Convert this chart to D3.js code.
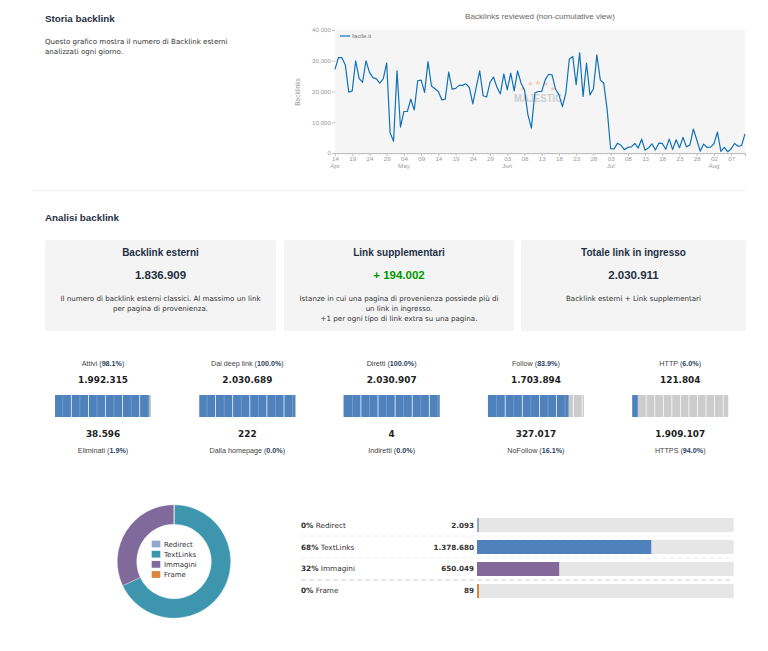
<!DOCTYPE html>
<html>
<head>
<meta charset="utf-8">
<script src="https://cdn.jsdelivr.net/npm/d3@7"></script>
<style>
  html, body { margin: 0; padding: 0; background: #fff; }
  svg { display: block; }
  .body { font-family: "DejaVu Sans", sans-serif; }
  .head { font-family: "Liberation Sans", Arial, sans-serif; font-weight: bold; fill: #1f3044; }
  .hc { font-family: "Liberation Sans", Arial, sans-serif; }
  .axis text { font-family: "Liberation Sans", Arial, sans-serif; font-size: 6.2px; fill: #999; }
  .axis path, .axis line { stroke: #c0c0c0; }
</style>
</head>
<body>
<svg width="768" height="651"></svg>
<script>
const svg = d3.select("svg");

// daily backlinks, starts 14 Apr
const backlinkValues = [
  27200, 31000, 31000, 28600, 19800, 20200, 30000, 24300, 23000, 30000,
  26200, 24500, 24100, 22700, 24100, 29200, 6500, 3800, 26700, 8400,
  13500, 13500, 17500, 14000, 23500, 23700, 19700, 29700, 21800, 20900,
  20000, 17300, 17500, 26300, 20800, 21000, 22000, 22000, 22500, 21300,
  16000, 21400, 26700, 18600, 18200, 23000, 24700, 21400, 19200, 25700,
  20500, 26000, 20200, 26700, 22700, 20500, 12400, 8100, 19500, 20000,
  20000, 23800, 25600, 25400, 20800, 18900, 15100, 19500, 30500, 31400,
  22200, 32600, 18400, 29200, 18900, 20800, 31900, 23800, 22700, 14000,
  1400, 1300, 3200, 2500, 1100, 1800, 2000, 3100, 1600, 4500,
  900, 1700, 3000, 1000, 3200, 3100, 1200, 4500, 1100, 4300,
  1700, 5100, 2000, 2600, 7800, 4300, 600, 2900, 1800, 1900,
  3100, 6800, 500, 1800, 400, 1400, 3100, 2200, 2400, 6200
];
const yTicks = [0, 10000, 20000, 30000, 40000];
const xTickDays = [
  "2019-04-14", "2019-04-19", "2019-04-24", "2019-04-29", "2019-05-04", "2019-05-09",
  "2019-05-14", "2019-05-19", "2019-05-24", "2019-05-29", "2019-06-03", "2019-06-08",
  "2019-06-13", "2019-06-18", "2019-06-23", "2019-06-28", "2019-07-03", "2019-07-08",
  "2019-07-13", "2019-07-18", "2019-07-23", "2019-07-28", "2019-08-02", "2019-08-07"
];
const monthTicks = ["2019-04-14", "2019-05-04", "2019-06-03", "2019-07-03", "2019-08-02"];

const cardTitles = ["Backlink esterni", "Link supplementari", "Totale link in ingresso"];
const cardValues = ["1.836.909", "+ 194.002", "2.030.911"];
const cardNotes = [
  ["Il numero di backlink esterni classici. Al massimo un link", "per pagina di provenienza."],
  ["Istanze in cui una pagina di provenienza possiede più di", "un link in ingresso.", "+1 per ogni tipo di link extra su una pagina."],
  ["Backlink esterni + Link supplementari"]
];

const gaugeTopLabels = ["Attivi", "Dai deep link", "Diretti", "Follow", "HTTP"];
const gaugeTopPercents = [98.1, 100.0, 100.0, 83.9, 6.0];
const gaugeTopValues = ["1.992.315", "2.030.689", "2.030.907", "1.703.894", "121.804"];
const gaugeBottomLabels = ["Eliminati", "Dalla homepage", "Indiretti", "NoFollow", "HTTPS"];
const gaugeBottomPercents = [1.9, 0.0, 0.0, 16.1, 94.0];
const gaugeBottomValues = ["38.596", "222", "4", "327.017", "1.909.107"];

const linkTypes = ["Redirect", "TextLinks", "Immagini", "Frame"];
const linkCounts = [2093, 1378680, 650049, 89];
const linkCountLabels = ["2.093", "1.378.680", "650.049", "89"];
const linkPercents = ["0%", "68%", "32%", "0%"];
const donutColors = ["#92a8cd", "#3d96ae", "#80699b", "#db843d"];
const barColors = ["#92a8cd", "#4f81bd", "#82689b", "#db843d"];

const parseDay = d3.timeParse("%Y-%m-%d");

function label(parent, x, y, txt, size, anchor, fill, weight) {
    return parent.append("text")
        .attr("class", "body")
        .attr("x", x)
        .attr("y", y)
        .attr("text-anchor", anchor || "start")
        .attr("fill", fill || "#333")
        .style("font-weight", weight || "normal")
        .style("font-size", size + "px")
        .text(txt);
}

// ---- header text
svg.append("text").attr("class", "head").attr("x", 45).attr("y", 21.5).style("font-size", "9.8px").text("Storia backlink");
label(svg, 45, 44, "Questo grafico mostra il numero di Backlink esterni", 7.1);
label(svg, 45, 54, "analizzati ogni giorno.", 7.1);

svg.append("line")
    .attr("x1", 33).attr("x2", 745).attr("y1", 190.5).attr("y2", 190.5)
    .attr("stroke", "#eeeeee");

svg.append("text").attr("class", "head").attr("x", 45).attr("y", 220.5).style("font-size", "9.8px").text("Analisi backlink");

// ---- line chart
const chart = { left: 335, right: 745, top: 30, bottom: 153 };
const startDay = parseDay(xTickDays[0]);
const days = backlinkValues.map((v, i) => d3.timeDay.offset(startDay, i));

const xTime = d3.scaleTime()
    .domain([days[0], days[days.length - 1]])
    .range([chart.left, chart.right]);

const yBacklinks = d3.scaleLinear()
    .domain([0, 40000])
    .range([chart.bottom, chart.top]);

svg.append("rect")
    .attr("x", chart.left)
    .attr("y", chart.top)
    .attr("width", chart.right - chart.left)
    .attr("height", chart.bottom - chart.top)
    .attr("fill", "#f5f5f5");

svg.append("text")
    .attr("class", "hc")
    .attr("x", 540)
    .attr("y", 18.5)
    .attr("text-anchor", "middle")
    .attr("fill", "#666")
    .style("font-size", "8.1px")
    .text("Backlinks reviewed (non-cumulative view)");

// watermark stars + name
const wm = svg.append("g");
[-50, -23, 0, 23, 50].forEach(a => {
    const r = a * Math.PI / 180;
    wm.append("text")
        .attr("class", "body")
        .attr("x", 538 + 19.5 * Math.sin(r))
        .attr("y", 104 - 19.5 * Math.cos(r))
        .attr("text-anchor", "middle")
        .attr("fill", "#f6c9b4")
        .style("font-size", "7px")
        .text("★");
});
wm.append("text")
    .attr("class", "hc")
    .attr("x", 514)
    .attr("y", 102)
    .attr("fill", "#cfcfcf")
    .attr("textLength", 48)
    .attr("lengthAdjust", "spacingAndGlyphs")
    .style("font-size", "11px")
    .style("font-weight", "bold")
    .text("MAJESTIC");

svg.append("g")
    .attr("class", "axis")
    .attr("transform", `translate(${chart.left},0)`)
    .call(d3.axisLeft(yBacklinks).tickValues(yTicks).tickSize(3).tickPadding(1).tickFormat(d3.format(",")))
    .call(g => g.select(".domain").remove());

const xAxis = svg.append("g")
    .attr("class", "axis")
    .attr("transform", `translate(0,${chart.bottom})`);

xAxis.call(d3.axisBottom(xTime)
    .tickValues(xTickDays.map(parseDay))
    .tickSize(3)
    .tickPadding(1)
    .tickFormat(d3.timeFormat("%d")));

xAxis.selectAll(".minor")
    .data(days)
    .enter()
    .append("line")
    .attr("class", "minor")
    .attr("x1", d => xTime(d))
    .attr("x2", d => xTime(d))
    .attr("y1", 0)
    .attr("y2", 1.5);

xAxis.selectAll(".month")
    .data(monthTicks.map(parseDay))
    .enter()
    .append("text")
    .attr("class", "month")
    .attr("x", d => xTime(d))
    .attr("y", 15)
    .attr("text-anchor", "middle")
    .text(d3.timeFormat("%b"));

svg.append("text")
    .attr("class", "hc")
    .attr("transform", "rotate(-90)")
    .attr("x", -92)
    .attr("y", 300)
    .attr("text-anchor", "middle")
    .attr("fill", "#999")
    .style("font-size", "6.5px")
    .text("Backlinks");

svg.append("path")
    .datum(backlinkValues)
    .attr("fill", "none")
    .attr("stroke", "#1272b6")
    .attr("stroke-width", 1.2)
    .attr("stroke-linejoin", "round")
    .attr("d", d3.line().x((d, i) => xTime(days[i])).y(d => yBacklinks(d)));

svg.append("line")
    .attr("x1", 340).attr("x2", 350).attr("y1", 36).attr("y2", 36)
    .attr("stroke", "#1272b6").attr("stroke-width", 1.2);
svg.append("text")
    .attr("class", "hc")
    .attr("x", 352)
    .attr("y", 38.3)
    .attr("fill", "#777")
    .style("font-size", "6.2px")
    .text("facile.it");

// ---- cards
const cardLefts = [45, 284, 521];
const cardWidths = [231, 230, 225];
cardTitles.forEach((title, i) => {
    const g = svg.append("g");
    const cx = cardLefts[i] + cardWidths[i] / 2;
    g.append("rect")
        .attr("x", cardLefts[i])
        .attr("y", 240)
        .attr("width", cardWidths[i])
        .attr("height", 91)
        .attr("rx", 2)
        .attr("fill", "#f4f4f4");
    g.append("text").attr("class", "head").attr("x", cx).attr("y", 255.5)
        .attr("text-anchor", "middle").style("font-size", "10px").text(title);
    g.append("text").attr("class", "head").attr("x", cx).attr("y", 279)
        .attr("text-anchor", "middle").style("font-size", "11.5px")
        .style("fill", i === 1 ? "#009900" : "#1f3044").text(cardValues[i]);
    cardNotes[i].forEach((line, j) => {
        label(g, cx, 300.5 + j * 10.3, line, 7.1, "middle");
    });
});

// ---- gauges
const gaugeX = d3.scaleBand()
    .domain(gaugeTopLabels)
    .range([30.9, 752.4]);
const gaugeFill = d3.scaleLinear().domain([0, 100]).range([0, 96]);
const gaugeSegment = d3.range(0, 12);
const gaugeOffsets = [7.3, 7.3, 8.3, 8.3, 5];

function gaugeLabel(g, cx, y, name, pct) {
    const t = g.append("text")
        .attr("class", "hc")
        .attr("x", cx)
        .attr("y", y)
        .attr("text-anchor", "middle")
        .attr("fill", "#444")
        .style("font-size", "7.2px")
        .text(name + " (");
    t.append("tspan").attr("fill", "#2a3f5f").style("font-weight", "bold").text(pct.toFixed(1) + "%");
    t.append("tspan").text(")");
}

gaugeTopLabels.forEach((name, i) => {
    const cx = gaugeX(name) + gaugeX.bandwidth() / 2;
    const left = cx - 48;
    const g = svg.append("g");
    const fillW = gaugeFill(gaugeTopPercents[i]);

    gaugeLabel(g, cx, 365.5, name, gaugeTopPercents[i]);
    label(g, cx, 383, gaugeTopValues[i], 8.9, "middle", "#222", "bold");

    g.append("rect").attr("x", left).attr("y", 395).attr("width", gaugeFill(100)).attr("height", 22).attr("fill", "#cccccc");
    g.append("rect").attr("x", left).attr("y", 395).attr("width", fillW).attr("height", 22).attr("fill", "#4f81bd");

    g.selectAll(".seg")
        .data(gaugeSegment.filter(d => gaugeOffsets[i] + d * 8.55 < 96))
        .enter()
        .append("rect")
        .attr("class", "seg")
        .attr("x", d => left + gaugeOffsets[i] + d * 8.55)
        .attr("y", 395)
        .attr("width", 0.8)
        .attr("height", 22)
        .attr("fill", "#fff")
        .attr("opacity", d => (gaugeOffsets[i] + d * 8.55 > fillW || d % 2 ? 0.95 : 0.25));

    label(g, cx, 437, gaugeBottomValues[i], 8.9, "middle", "#222", "bold");
    gaugeLabel(g, cx, 452.5, gaugeBottomLabels[i], gaugeBottomPercents[i]);
});

// ---- donut
const donut = svg.append("g").attr("transform", "translate(174,561.5)");
const pie = d3.pie().sort(null);
const arc = d3.arc().innerRadius(37.3).outerRadius(56.7);

donut.selectAll("path")
    .data(pie(linkCounts))
    .enter()
    .append("path")
    .attr("d", arc)
    .attr("fill", (d, i) => donutColors[i])
    .attr("stroke", "#fff")
    .attr("stroke-width", 0.3);

const legendY = d3.scalePoint().domain(linkTypes).range([544, 574.5]);
linkTypes.forEach((name, i) => {
    svg.append("rect")
        .attr("x", 151.7)
        .attr("y", legendY(name) - 3.4)
        .attr("width", 8.6)
        .attr("height", 6.8)
        .attr("fill", donutColors[i]);
    label(svg, 164, legendY(name) + 2.5, name, 7);
});

// ---- link type bars
const rowY = d3.scaleBand().domain(linkTypes).range([518, 598]).paddingInner(0.3636);
const barX = d3.scaleLinear().domain([0, d3.sum(linkCounts)]).range([0, 256.7]);

linkTypes.forEach((name, i) => {
    const y = rowY(name);
    const mid = y + rowY.bandwidth() / 2 + 2.5;
    svg.append("rect").attr("x", 477).attr("y", y).attr("width", 256.7).attr("height", rowY.bandwidth())
        .attr("rx", 1).attr("fill", "#e6e6e6");
    svg.append("rect").attr("x", 477).attr("y", y)
        .attr("width", Math.max(2, barX(linkCounts[i])))
        .attr("height", rowY.bandwidth())
        .attr("fill", barColors[i]);

    const t = label(svg, 301, mid, "", 7.3);
    t.append("tspan").style("font-weight", "bold").text(linkPercents[i]);
    t.append("tspan").text(" " + name);
    label(svg, 474, mid, linkCountLabels[i], 7.2, "end", "#333", "bold");

    if (i < 3) {
        svg.append("line")
            .attr("x1", 301).attr("x2", 733)
            .attr("y1", y + rowY.bandwidth() + 4)
            .attr("y2", y + rowY.bandwidth() + 4)
            .attr("stroke", i === 2 ? "#cccccc" : "#eeeeee")
            .attr("stroke-dasharray", "5 3");
    }
});
</script>
</body>
</html>
